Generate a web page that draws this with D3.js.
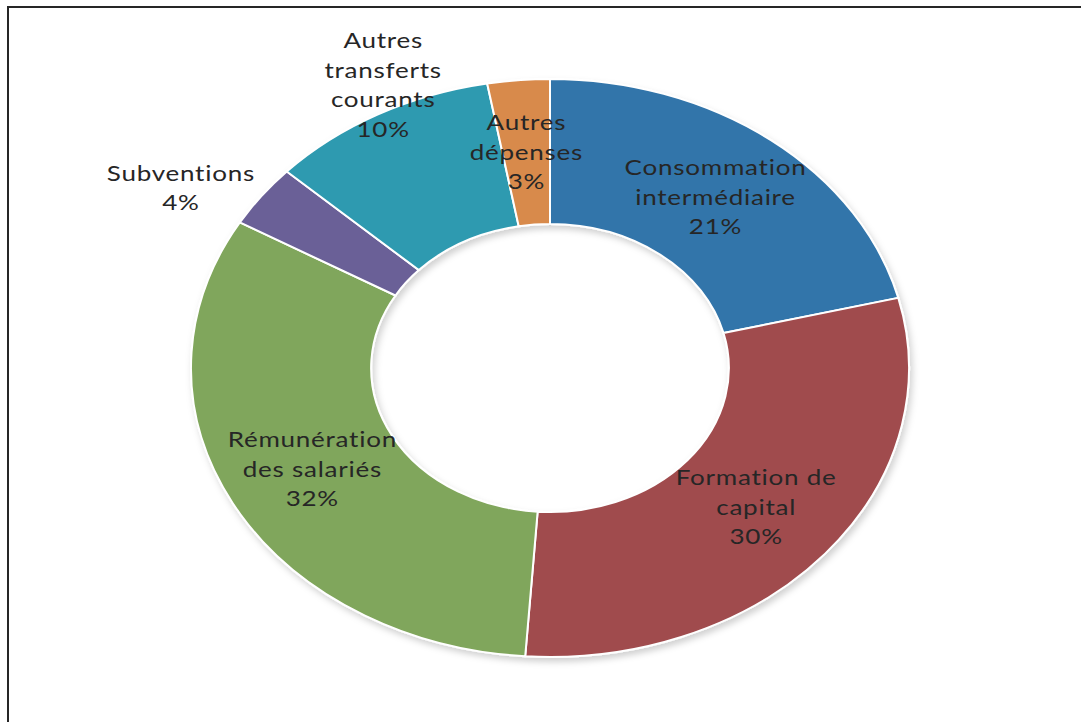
<!DOCTYPE html>
<html><head><meta charset="utf-8">
<script src="https://cdn.jsdelivr.net/npm/d3@7"></script>
<style>html,body{margin:0;padding:0;background:#fff;}</style>
</head><body>
<svg id="c" width="1081" height="722"></svg>
<script>
const categories = ["Consommation intermédiaire","Formation de capital","Rémunération des salariés","Subventions","Autres transferts courants","Autres dépenses"];
const labelLines = [["Consommation","intermédiaire"],["Formation de","capital"],["Rémunération","des salariés"],["Subventions"],["Autres","transferts","courants"],["Autres","dépenses"]];
const values = [21.1, 30.0, 32.3, 3.5, 10.3, 2.8];
const colors = ["#3275AA","#A04C4E","#80A65B","#6A6097","#2F9AB0","#D88A4B"];
const labelOffsets = [[0,0],[0,0],[0,0],[-153,-51],[-38,-93],[0,0]];

const W = 1081, H = 722;
const cx = 550, cy = 368, R = 289, r = 144, sx = 359/289;
const svg = d3.select("#c");

svg.append("rect").attr("x",8).attr("y",7).attr("width",W+20).attr("height",H+20)
  .attr("fill","none").attr("stroke","#262626").attr("stroke-width",2);

const defs = svg.append("defs");
const f = defs.append("filter").attr("id","sh").attr("x","-10%").attr("y","-10%").attr("width","130%").attr("height","130%");
f.append("feDropShadow").attr("dx",2).attr("dy",4).attr("stdDeviation",3).attr("flood-color","#000").attr("flood-opacity",0.18);

const pie = d3.pie().sort(null).value(d=>d)(values);
const arc = d3.arc().innerRadius(r).outerRadius(R);
const mid = d3.arc().innerRadius((r+R)/2).outerRadius((r+R)/2);

const g = svg.append("g").attr("transform",`translate(${cx},${cy}) scale(${sx},1)`).attr("filter","url(#sh)");
g.selectAll("path").data(pie).join("path")
  .attr("d",arc).attr("fill",(d,i)=>colors[i])
  .attr("stroke","#fff").attr("stroke-width",2).attr("vector-effect","non-scaling-stroke");

const total = d3.sum(values);
const lg = svg.append("g").attr("transform",`translate(${cx},${cy})`);
pie.forEach((d,i)=>{
  const c = mid.centroid(d);
  const x = c[0]*sx + labelOffsets[i][0], y = c[1] + labelOffsets[i][1];
  const lines = labelLines[i].concat([Math.round(values[i]/total*100)+"%"]);
  const lh = 29.5;
  const t = lg.append("text")
    .attr("transform",`translate(${x},${y}) scale(1.24,1)`)
    .attr("text-anchor","middle")
    .attr("font-family","Lato, 'Open Sans', sans-serif")
    .attr("font-size",21).attr("letter-spacing",0.6)
    .attr("fill","#262626");
  lines.forEach((s,k)=>{
    t.append("tspan").attr("x",0).attr("y",(k-(lines.length-1)/2)*lh + 7.5).text(s);
  });
});
</script>
</body></html>
